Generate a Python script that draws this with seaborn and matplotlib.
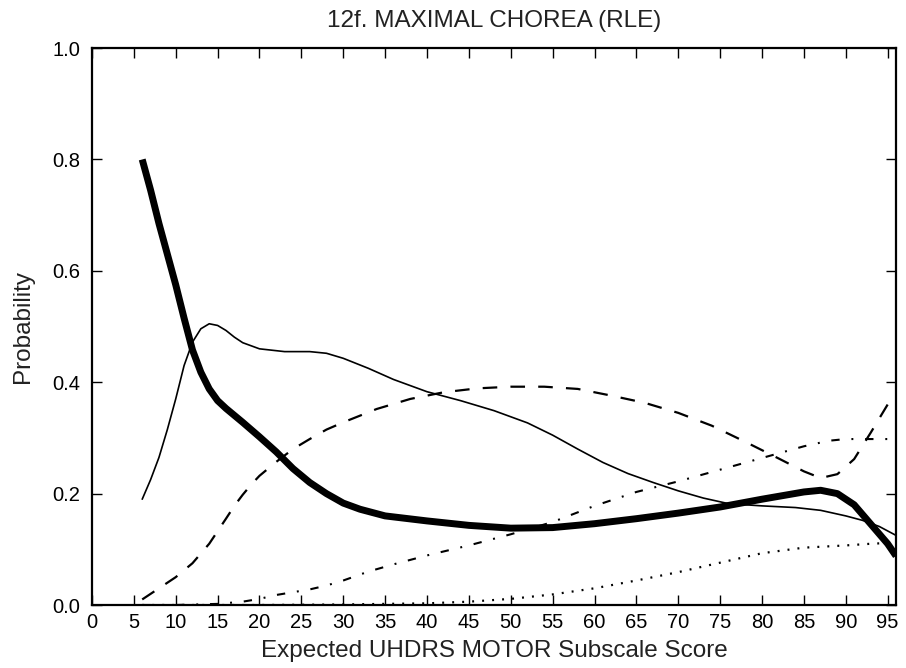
import matplotlib
matplotlib.use("Agg")
import matplotlib.pyplot as plt
import seaborn as sns
import pandas as pd

# Expected UHDRS motor score (x) and predicted probability (y) for each chorea level
score_thick = [6, 7, 8, 9, 10, 11, 12, 13, 14, 15, 16, 18, 20, 22, 24, 26, 28, 30, 32,
               35, 40, 45, 50, 55, 60, 65, 70, 75, 80, 85, 87, 89, 91, 93, 95, 96]
prob_thick = [0.80, 0.745, 0.685, 0.63, 0.575, 0.515, 0.458, 0.418, 0.388, 0.367, 0.353,
              0.328, 0.302, 0.275, 0.245, 0.220, 0.200, 0.183, 0.172, 0.160, 0.151, 0.143,
              0.138, 0.139, 0.146, 0.155, 0.165, 0.176, 0.190, 0.203, 0.206, 0.200, 0.180,
              0.145, 0.110, 0.088]

score_thin = [6, 7, 8, 9, 10, 11, 12, 13, 14, 15, 16, 17, 18, 20, 23, 26, 28, 30, 33, 36,
              40, 44, 48, 52, 55, 58, 61, 64, 67, 70, 73, 76, 80, 84, 87, 90, 92, 94, 96]
prob_thin = [0.19, 0.225, 0.265, 0.315, 0.37, 0.43, 0.472, 0.496, 0.505, 0.502, 0.493,
             0.481, 0.471, 0.460, 0.455, 0.455, 0.452, 0.443, 0.425, 0.405, 0.383, 0.367,
             0.349, 0.327, 0.305, 0.280, 0.256, 0.236, 0.220, 0.205, 0.192, 0.182, 0.178,
             0.175, 0.170, 0.160, 0.152, 0.141, 0.125]

score_dash = [6, 8, 10, 12, 14, 16, 17, 18, 19, 20, 22, 24, 26, 28, 30, 34, 38, 42, 46, 50,
              54, 58, 62, 66, 70, 74, 78, 82, 85, 87, 89, 91, 93, 95, 96]
prob_dash = [0.01, 0.03, 0.05, 0.075, 0.11, 0.155, 0.178, 0.198, 0.216, 0.232, 0.257,
             0.280, 0.298, 0.315, 0.328, 0.352, 0.370, 0.382, 0.389, 0.392, 0.392, 0.388,
             0.376, 0.363, 0.345, 0.322, 0.293, 0.263, 0.240, 0.228, 0.235, 0.262, 0.310,
             0.360, 0.378]

score_dashdot = [6, 10, 15, 18, 20, 22, 24, 26, 28, 30, 33, 36, 40, 45, 50, 55, 60, 65, 70,
                 75, 80, 85, 88, 90, 93, 96]
prob_dashdot = [0.0, 0.0, 0.002, 0.006, 0.011, 0.018, 0.023, 0.028, 0.035, 0.044, 0.060,
                0.073, 0.089, 0.107, 0.127, 0.149, 0.178, 0.203, 0.222, 0.243, 0.264, 0.285,
                0.295, 0.298, 0.298, 0.298]

score_dot = [6, 20, 30, 40, 45, 50, 55, 60, 65, 70, 75, 80, 85, 90, 93, 96]
prob_dot = [0.0, 0.0, 0.001, 0.003, 0.006, 0.011, 0.019, 0.030, 0.044, 0.059, 0.076, 0.093,
            0.103, 0.107, 0.110, 0.112]

x_ticks = list(range(0, 100, 5))
y_ticks = [0.0, 0.2, 0.4, 0.6, 0.8, 1.0]
y_tick_labels = ["0.0", "0.2", "0.4", "0.6", "0.8", "1.0"]

sns.set_style("ticks")
plt.rcParams["font.family"] = ["Liberation Sans", "DejaVu Sans"]
plt.rcParams["lines.scale_dashes"] = False

fig = plt.figure(figsize=(9.06, 6.68), dpi=100)
ax = fig.add_axes([0.1015, 0.0943, 0.8875, 0.8337])

curves = [
    (score_dot, prob_dot, dict(lw=1.6, linestyle=(0, (1.4, 5.8)))),
    (score_dashdot, prob_dashdot, dict(lw=1.5, linestyle=(0, (6, 8.5, 1.4, 8.5)))),
    (score_dash, prob_dash, dict(lw=1.6, linestyle=(0, (10.5, 9.5)))),
    (score_thin, prob_thin, dict(lw=1.2, linestyle="-")),
    (score_thick, prob_thick, dict(lw=5.0, linestyle="-", solid_capstyle="butt")),
]
for xs, ys, style in curves:
    df = pd.DataFrame({"score": xs, "prob": ys})
    sns.lineplot(data=df, x="score", y="prob", ax=ax, color="black",
                 estimator=None, sort=False, **style)

ax.set_xlim(0, 96)
ax.set_ylim(0, 1.0)
ax.set_xticks(x_ticks)
ax.set_xticklabels([str(t) for t in x_ticks])
ax.set_yticks(y_ticks)
ax.set_yticklabels(y_tick_labels)

ax.tick_params(direction="in", length=7, width=1.0, top=True, right=True,
               labelsize=14.5, colors="black")
ax.tick_params(axis="y", pad=8.5)
ax.tick_params(axis="x", pad=5.5)
for side in ax.spines.values():
    side.set_linewidth(1.6)
    side.set_color("black")

ax.set_xlabel("Expected UHDRS MOTOR Subscale Score", fontsize=17.5, labelpad=6,
              color="#222222")
ax.set_ylabel("Probability", fontsize=17.5, labelpad=13, color="#222222")
ax.set_title("12f. MAXIMAL CHOREA (RLE)", fontsize=17.5, pad=15, color="#222222")

fig.savefig("out.png", dpi=100)
